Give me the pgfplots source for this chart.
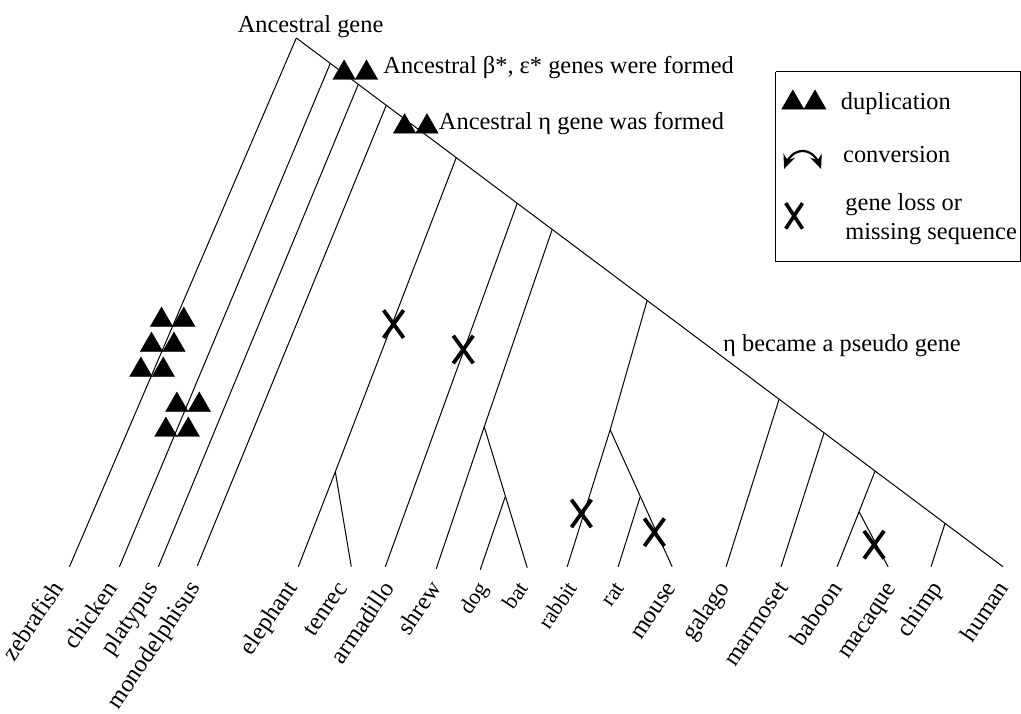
\documentclass[border=0pt]{standalone}
\usepackage{fontspec}
\setmainfont{Liberation Serif}
\usepackage{pgfplots}
\pgfplotsset{compat=1.18}
\usetikzlibrary{arrows.meta}

% sans-serif style cross used for gene loss events
\pgfdeclareplotmark{lossX}{%
  \pgfpathmoveto{\pgfqpoint{-5pt}{-6.9pt}}\pgfpathlineto{\pgfqpoint{5pt}{6.9pt}}%
  \pgfpathmoveto{\pgfqpoint{-5pt}{6.9pt}}\pgfpathlineto{\pgfqpoint{5pt}{-6.9pt}}%
  \pgfusepathqstroke}
\pgfdeclareplotmark{lossXkey}{%
  \pgfpathmoveto{\pgfqpoint{-4.2pt}{-6.4pt}}\pgfpathlineto{\pgfqpoint{4.2pt}{6.4pt}}%
  \pgfpathmoveto{\pgfqpoint{-4.2pt}{6.4pt}}\pgfpathlineto{\pgfqpoint{4.2pt}{-6.4pt}}%
  \pgfusepathqstroke}

\begin{document}
\begin{tikzpicture}[font=\fontsize{12.2}{14}\selectfont,
  lbl/.style={anchor=base east, rotate=56, inner sep=0pt},
  slbl/.style={anchor=base east, rotate=56, inner sep=0pt, font=\fontsize{11}{13}\selectfont}]
\begin{axis}[
  x=0.5pt, y=0.5pt, y dir=reverse,
  xmin=0, xmax=1021, ymin=0, ymax=713,
  hide axis, clip=false,
  branch/.style={black, line width=0.5pt},
]
% frame of the drawing area
\addplot[draw=none] coordinates {(0,0) (1021,713)};

% ---- tree branches ----
% backbone from the ancestral gene to human
\addplot[branch] coordinates {(296,38) (1003,567)};
% zebrafish
\addplot[branch] coordinates {(296,38) (69,567)};
% chicken
\addplot[branch] coordinates {(330,63.4) (119,567)};
% platypus
\addplot[branch] coordinates {(358,84.4) (158,567)};
% monodelphisus
\addplot[branch] coordinates {(386,105.3) (197,566)};
% elephant / tenrec
\addplot[branch] coordinates {(456,157.7) (335,472) (298,567)};
\addplot[branch] coordinates {(335,472) (351,567)};
% armadillo
\addplot[branch] coordinates {(517,203.4) (385,567)};
% shrew, dog, bat
\addplot[branch] coordinates {(552,229.6) (484,427) (436,569)};
\addplot[branch] coordinates {(484,427) (527,568)};
\addplot[branch] coordinates {(505,497) (480,570)};
% rabbit, rat, mouse
\addplot[branch] coordinates {(647,300.6) (610,430) (567,567)};
\addplot[branch] coordinates {(610,430) (672,567)};
\addplot[branch] coordinates {(640,497) (618,567)};
% galago
\addplot[branch] coordinates {(779,399.4) (726,567)};
% marmoset
\addplot[branch] coordinates {(824,433) (781,567)};
% baboon, macaque
\addplot[branch] coordinates {(875,471.2) (859,512) (837,567)};
\addplot[branch] coordinates {(859,512) (888,567)};
% chimp
\addplot[branch] coordinates {(945,523.6) (931,567)};

% ---- duplication events (pairs of triangles) ----
\addplot[only marks, mark=triangle*, mark size=6.5pt,
  mark options={fill=black, draw=black, line width=0.2pt}] coordinates {
  (343.8,73) (366.2,73)
  (404.3,126.8) (426.7,126.8)
  (161.1,320.2) (183.4,320.2)
  (151.1,345.2) (173.6,345.2)
  (140.5,370.2) (162.9,370.2)
  (176.5,405.2) (198.9,405.2)
  (165.5,430.2) (187.9,430.2)
};

% ---- gene loss / missing sequence ----
\addplot[only marks, mark=lossX, mark options={black, line width=1.9pt}] coordinates {
  (393.3,324.2) (463,349.7) (581.2,513.7) (654.2,532.5) (874,545)
};

% ---- annotations ----
\node[anchor=base west, inner sep=0pt] at (axis cs:237,32.3) {Ancestral gene};
\node[anchor=base west, inner sep=0pt] at (axis cs:382.7,74) {Ancestral β*, ε* genes were formed};
\node[anchor=base west, inner sep=0pt] at (axis cs:438.3,129.3) {Ancestral η gene was formed};
\node[anchor=base west, inner sep=0pt] at (axis cs:722.7,351.7) {η became a pseudo gene};

% ---- species ----
\node[lbl]  at (axis cs:64,588)   {zebrafish};
\node[lbl]  at (axis cs:118,588)  {chicken};
\node[lbl]  at (axis cs:159,588)  {platypus};
\node[lbl]  at (axis cs:201,588)  {monodelphisus};
\node[lbl]  at (axis cs:298,588)  {elephant};
\node[lbl]  at (axis cs:348,588)  {tenrec};
\node[lbl]  at (axis cs:395,588)  {armadillo};
\node[lbl]  at (axis cs:442,588)  {shrew};
\node[slbl] at (axis cs:489,588)  {dog};
\node[slbl] at (axis cs:529,588)  {bat};
\node[slbl] at (axis cs:578,588)  {rabbit};
\node[slbl] at (axis cs:625,588)  {rat};
\node[lbl]  at (axis cs:677,588)  {mouse};
\node[lbl]  at (axis cs:730,588)  {galago};
\node[lbl]  at (axis cs:789,588)  {marmoset};
\node[lbl]  at (axis cs:843,588)  {baboon};
\node[lbl]  at (axis cs:897,588)  {macaque};
\node[lbl]  at (axis cs:943,588)  {chimp};
\node[lbl]  at (axis cs:1010,588) {human};

% ---- key ----
\addplot[black, line width=0.6pt] coordinates {
  (775.7,71.7) (1020.3,71.7) (1020.3,261.7) (775.7,261.7) (775.7,71.7)};
\addplot[only marks, mark=triangle*, mark size=6.4pt,
  mark options={fill=black, draw=black, line width=0.2pt}] coordinates {
  (792.7,102.8) (814.9,102.8)};
\addplot[black, line width=1.1pt, smooth,
  {Stealth[length=7pt,width=6pt]}-{Stealth[length=7pt,width=6pt]}] coordinates {
  (784,169) (788.5,159) (795,153) (802.5,151) (810,153) (816.5,159) (821,169)};
\addplot[only marks, mark=lossXkey, mark options={black, line width=1.8pt}] coordinates {
  (794,216)};
\node[anchor=base west, inner sep=0pt] at (axis cs:840.5,109.3) {duplication};
\node[anchor=base west, inner sep=0pt] at (axis cs:842.7,162.7) {conversion};
\node[anchor=base west, inner sep=0pt] at (axis cs:845,210.7) {gene loss or};
\node[anchor=base west, inner sep=0pt] at (axis cs:845,239.3) {missing sequence};
\end{axis}
\end{tikzpicture}
\end{document}
